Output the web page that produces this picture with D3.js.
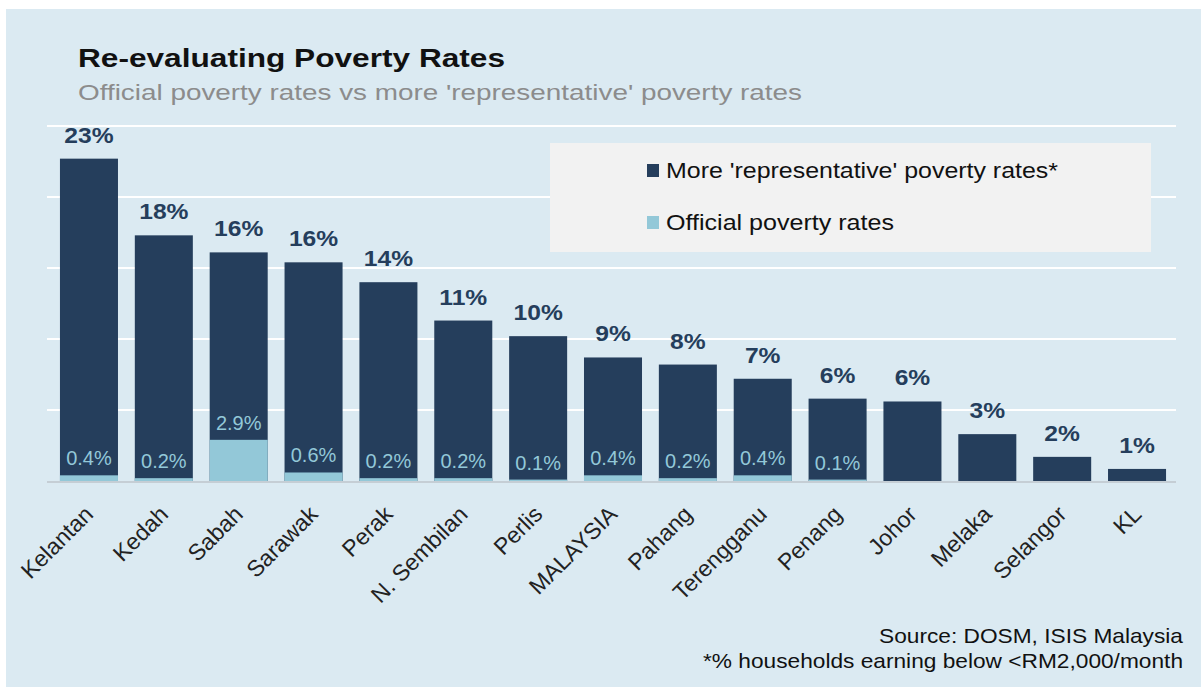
<!DOCTYPE html>
<html>
<head>
<meta charset="utf-8">
<script src="https://cdn.jsdelivr.net/npm/d3@7"></script>
<style>
  body { margin: 0; background: #fff; }
  svg { display: block; font-family: "Liberation Sans", Arial, sans-serif; }
</style>
</head>
<body>
<div id="chart"></div>
<script>
// data
const states = ["Kelantan", "Kedah", "Sabah", "Sarawak", "Perak", "N. Sembilan", "Perlis", "MALAYSIA",
    "Pahang", "Terengganu", "Penang", "Johor", "Melaka", "Selangor", "KL"];
const representative = [22.7, 17.3, 16.1, 15.4, 14.0, 11.3, 10.2, 8.7, 8.2, 7.2, 5.8, 5.6, 3.3, 1.7, 0.85];
const representativeLabels = ["23%", "18%", "16%", "16%", "14%", "11%", "10%", "9%", "8%", "7%", "6%", "6%", "3%", "2%", "1%"];
const official = [0.4, 0.2, 2.9, 0.6, 0.2, 0.2, 0.1, 0.4, 0.2, 0.4, 0.1, null, null, null, null];
const officialLabels = ["0.4%", "0.2%", "2.9%", "0.6%", "0.2%", "0.2%", "0.1%", "0.4%", "0.2%", "0.4%", "0.1%", null, null, null, null];
const gridTicks = [5, 10, 15, 20, 25];

const width = 1201, height = 687;
const margin = {top: 126, right: 25, bottom: 206, left: 47};

const darkBlue = "#253e5c", lightBlue = "#93c8d8";

const svg = d3.select("#chart").append("svg").attr("width", width).attr("height", height);

// panel background
svg.append("rect").attr("x", 6).attr("y", 9).attr("width", width - 6).attr("height", height - 9).attr("fill", "#dbeaf2");

//scales
const x = d3.scaleBand().domain(states).range([50, width - margin.right]).paddingInner(0.225).paddingOuter(0.133);
const y = d3.scaleLinear().domain([0, 25]).range([height - margin.bottom, margin.top]);

// gridlines
svg.append("g").selectAll("line").data(gridTicks).enter().append("line")
    .attr("x1", margin.left).attr("x2", width - margin.right)
    .attr("y1", d => y(d)).attr("y2", d => y(d))
    .attr("stroke", "#fff").attr("stroke-width", 2);

// stretched text helper (the original is wider than plain Arial)
function addText(tx, ty, str, size, len, opts) {
    let t = svg.append("text").attr("x", tx).attr("y", ty).text(str).attr("font-size", size)
        .attr("textLength", len).attr("lengthAdjust", "spacingAndGlyphs");
    Object.entries(opts || {}).forEach(([k, v]) => t.attr(k, v));
    return t;
}

// title
addText(78, 67, "Re-evaluating Poverty Rates", 25, 427, {"font-weight": "bold", fill: "#111"});
addText(78, 100, "Official poverty rates vs more 'representative' poverty rates", 22, 724, {fill: "#8c8c8c"});

// legend
svg.append("rect").attr("x", 550).attr("y", 143).attr("width", 601).attr("height", 109).attr("fill", "#f2f2f2");
const legendItems = [{label: "More 'representative' poverty rates*", color: darkBlue, y: 178, len: 392},
    {label: "Official poverty rates", color: lightBlue, y: 230, len: 228}];
legendItems.forEach(item => {
    svg.append("rect").attr("x", 647).attr("y", item.y - 14).attr("width", 12).attr("height", 13).attr("fill", item.color);
    addText(666, item.y, item.label, 22, item.len, {fill: "#111"});
});

//bars
svg.selectAll(".rep").data(representative).enter().append("rect").attr("class", "rep")
    .attr("x", (d, i) => x(states[i])).attr("y", d => y(d))
    .attr("width", x.bandwidth()).attr("height", d => y(0) - y(d)).attr("fill", darkBlue);

official.forEach((d, i) => {
    if (d === null) return;
    svg.append("rect").attr("class", "off")
        .attr("x", x(states[i])).attr("y", y(d))
        .attr("width", x.bandwidth()).attr("height", y(0) - y(d)).attr("fill", lightBlue);
});

// baseline
svg.append("line").attr("x1", margin.left).attr("x2", width - margin.right)
    .attr("y1", y(0) + 1).attr("y2", y(0) + 1).attr("stroke", "#c5ced5").attr("stroke-width", 2);

//labels
svg.selectAll(".rep-label").data(representative).enter().append("text").attr("class", "rep-label")
    .attr("transform", (d, i) => `translate(${x(states[i]) + x.bandwidth() / 2}, ${y(d) - 16}) scale(1.12, 1)`)
    .attr("text-anchor", "middle").text((d, i) => representativeLabels[i])
    .attr("font-size", 22).attr("font-weight", "bold").attr("fill", darkBlue);

official.forEach((d, i) => {
    if (d === null) return;
    svg.append("text").attr("x", x(states[i]) + x.bandwidth() / 2).attr("y", y(d) - 10)
        .attr("text-anchor", "middle").text(officialLabels[i])
        .attr("font-size", 20).attr("fill", lightBlue);
});

// x axis labels
const xAxis = svg.append("g").attr("transform", `translate(0, ${y(0)})`).call(d3.axisBottom(x).tickSize(0).tickPadding(0));
xAxis.select(".domain").remove();
xAxis.selectAll("text").attr("font-size", 23).attr("font-family", "Liberation Sans, Arial, sans-serif").attr("fill", "#222")
    .attr("text-anchor", "end").attr("dy", "0.35em")
    .attr("transform", "translate(0, 29) rotate(-45)");

// source
addText(1183, 643, "Source: DOSM, ISIS Malaysia", 21, 304, {"text-anchor": "end", fill: "#111"});
addText(1183, 668, "*% households earning below <RM2,000/month", 21, 480, {"text-anchor": "end", fill: "#111"});
</script>
</body>
</html>
